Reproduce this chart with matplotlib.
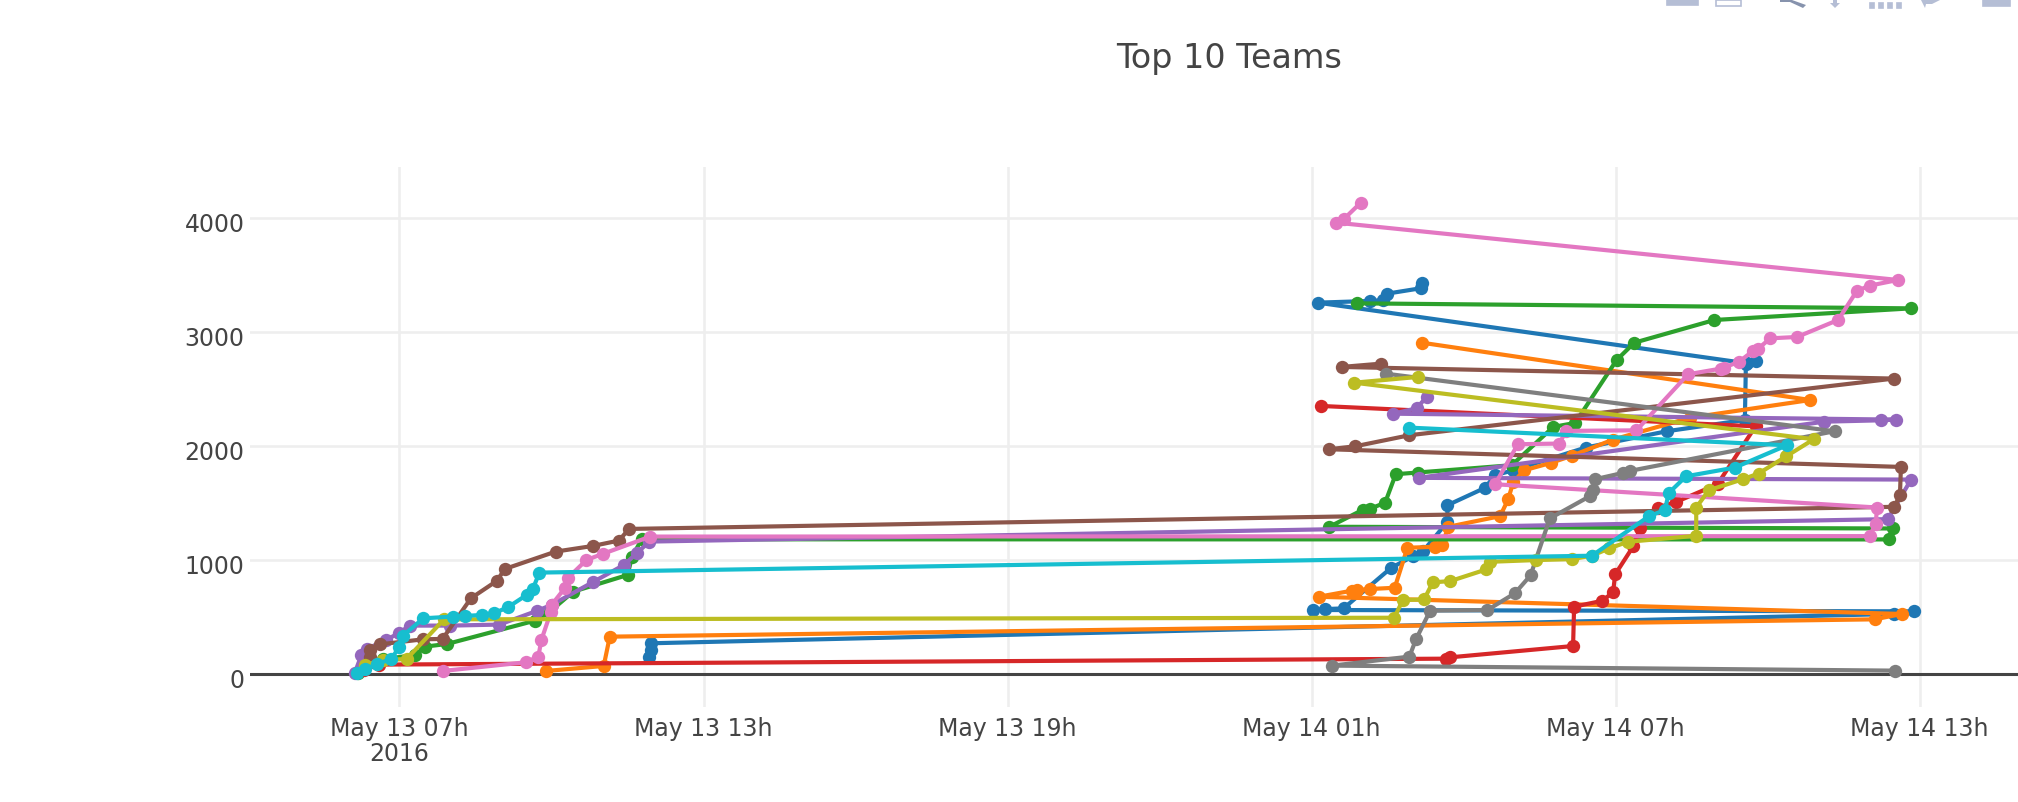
from datetime import datetime, timedelta

import matplotlib
matplotlib.use("Agg")
import matplotlib.pyplot as plt
from matplotlib.patches import Polygon, Rectangle
from matplotlib.transforms import ScaledTranslation

plt.rcParams["font.family"] = ["DejaVu Sans"]

START = datetime(2016, 5, 13)

# Each team: hours since 13 May 00:00 and cumulative score, in the order recorded.
team1_h = [11.93, 11.96, 11.96, 36.49, 36.89, 25.03, 25.26, 25.63, 26.57, 27.01, 27.20, 27.68, 27.68, 28.42,
           28.62, 28.98, 30.41, 32.01, 33.55, 33.57, 33.77, 33.59, 25.12, 26.16, 26.41, 26.49, 27.15, 27.17]
team1_v = [155, 213, 272, 529, 552, 564, 572, 578, 934, 1037, 1080, 1337, 1483, 1635,
           1746, 1790, 1989, 2132, 2231, 2719, 2749, 2728, 3260, 3275, 3281, 3339, 3386, 3436]

team2_h = [9.89, 11.03, 11.15, 36.11, 36.65, 25.14, 25.79, 25.89, 26.16, 26.64, 26.89, 27.43, 27.57, 27.70,
           28.72, 28.88, 28.98, 29.20, 29.72, 30.13, 30.95, 32.47, 34.84, 27.17]
team2_v = [29, 73, 330, 482, 529, 680, 733, 739, 748, 759, 1110, 1118, 1133, 1294,
           1387, 1536, 1688, 1790, 1854, 1916, 2059, 2251, 2406, 2909]

team3_h = [6.19, 6.68, 7.31, 7.51, 7.94, 9.68, 9.97, 10.43, 11.50, 11.59, 11.78, 36.39, 36.47, 25.35, 26.02,
           26.16, 26.45, 26.66, 27.09, 28.95, 29.77, 30.20, 31.02, 31.37, 32.95, 36.83, 25.89]
team3_v = [15, 132, 170, 243, 266, 471, 550, 725, 871, 1032, 1184, 1183, 1279, 1294, 1445,
           1454, 1504, 1755, 1770, 1834, 2170, 2205, 2757, 2909, 3108, 3210, 3254]

team4_h = [6.30, 6.60, 27.66, 27.74, 30.16, 30.18, 30.74, 30.95, 30.99, 31.35, 31.48, 31.83, 32.20, 33.01, 33.76, 25.18]
team4_v = [40, 85, 137, 149, 248, 593, 645, 721, 876, 1124, 1279, 1463, 1513, 1667, 2175, 2354]

team5_h = [6.12, 6.25, 6.35, 6.74, 7.00, 7.20, 8.00, 8.97, 9.71, 10.00, 10.81, 11.43, 11.68, 11.93,
           36.37, 36.83, 27.11, 35.12, 36.24, 36.54, 26.61, 27.07, 27.27]
team5_v = [15, 170, 222, 301, 365, 427, 427, 436, 556, 608, 807, 959, 1061, 1164,
           1361, 1708, 1723, 2216, 2228, 2234, 2286, 2333, 2433]

team6_h = [6.42, 6.42, 6.62, 7.47, 7.85, 8.41, 8.92, 9.08, 10.08, 10.82, 11.33, 11.53,
           36.50, 36.61, 36.63, 25.34, 25.86, 26.93, 36.49, 25.59, 26.37]
team6_v = [155, 213, 263, 307, 310, 667, 819, 924, 1076, 1126, 1173, 1275,
           1469, 1571, 1819, 1974, 2000, 2097, 2594, 2696, 2725]

team7_h = [7.85, 9.49, 9.74, 9.80, 9.99, 10.00, 10.26, 10.33, 10.69, 11.01, 11.95, 36.01, 36.13, 36.16, 28.62,
           29.07, 29.89, 30.02, 31.41, 32.43, 33.07, 33.13, 33.43, 33.71, 33.80, 34.05, 34.58, 35.39, 35.76,
           36.01, 36.57, 25.48, 25.63, 25.97]
team7_v = [29, 105, 155, 301, 550, 608, 754, 848, 1003, 1056, 1208, 1212, 1317, 1463, 1667,
           2018, 2024, 2135, 2140, 2632, 2681, 2690, 2740, 2836, 2851, 2947, 2959, 3108, 3363,
           3409, 3459, 3962, 3991, 4137]

team8_h = [36.52, 25.41, 26.93, 27.06, 27.34, 28.47, 29.01, 29.32, 29.70, 30.49, 30.55, 30.59, 31.15, 31.28, 35.32, 26.47]
team8_v = [32, 76, 155, 307, 558, 564, 710, 867, 1367, 1562, 1615, 1711, 1767, 1784, 2132, 2637]

team9_h = [6.32, 6.68, 7.14, 7.88, 26.63, 26.80, 27.22, 27.39, 27.74, 28.45, 28.53, 29.43, 30.13, 30.53, 30.87,
           31.24, 32.59, 32.59, 32.84, 33.51, 33.82, 34.37, 34.91, 25.84, 27.09]
team9_v = [82, 126, 134, 482, 496, 651, 657, 806, 818, 920, 987, 1002, 1010, 1040, 1104,
           1162, 1215, 1463, 1615, 1711, 1761, 1913, 2062, 2558, 2608]

team10_h = [6.16, 6.32, 6.55, 6.84, 6.99, 7.07, 7.47, 8.05, 8.29, 8.62, 8.86, 9.14, 9.51, 9.63, 9.76,
            30.53, 31.66, 31.97, 32.05, 32.39, 33.35, 34.38, 26.92]
team10_v = [15, 44, 88, 135, 237, 339, 491, 506, 512, 520, 535, 588, 696, 746, 892,
            1040, 1387, 1440, 1591, 1737, 1813, 2009, 2164]

teams = [(team1_h, team1_v), (team2_h, team2_v), (team3_h, team3_v), (team4_h, team4_v), (team5_h, team5_v),
         (team6_h, team6_v), (team7_h, team7_v), (team8_h, team8_v), (team9_h, team9_v), (team10_h, team10_v)]
team_colors = ["#1f77b4", "#ff7f0e", "#2ca02c", "#d62728", "#9467bd",
               "#8c564b", "#e377c2", "#7f7f7f", "#bcbd22", "#17becf"]

x_tick_hours = [7, 13, 19, 25, 31, 37]
x_tick_labels = ["May 13 07h\n2016", "May 13 13h", "May 13 19h", "May 14 01h", "May 14 07h", "May 14 13h"]
y_ticks = [0, 1000, 2000, 3000, 4000]


def stamp(hours):
    return START + timedelta(hours=hours)


W, H = 2018, 802
fig = plt.figure(figsize=(W / 100, H / 100), dpi=100, facecolor="white")
ax = fig.add_axes([250 / W, 1 - 707 / H, (W - 250) / W, (707 - 167) / H])

for (hours, values), color in zip(teams, team_colors):
    ax.plot([stamp(h) for h in hours], values, "-o", color=color, lw=3, ms=9.6, mew=0, zorder=3, clip_on=False)

ax.set_xlim(stamp(4.05), stamp(38.94))
ax.set_ylim(-287, 4450)
ax.set_xticks([stamp(h) for h in x_tick_hours])
ax.set_xticklabels(x_tick_labels, linespacing=1.08)
ax.set_yticks(y_ticks)
ax.tick_params(axis="both", length=0, labelsize=17, labelcolor="#444444")
ax.tick_params(axis="x", pad=7)
ax.tick_params(axis="y", pad=4)
ax.grid(True, color="#eeeeee", lw=1.9)
ax.set_axisbelow(True)
for side in ax.spines.values():
    side.set_visible(False)
ax.axhline(0, color="#444444", lw=2.2, zorder=2)

# Value labels sit a little below their gridlines.
nudge = ScaledTranslation(0, -4 / 100, fig.dpi_scale_trans)
for label in ax.get_yticklabels():
    label.set_transform(label.get_transform() + nudge)

fig.text(1229 / W, 1 - 68 / H, "Top 10 Teams", ha="center", va="baseline", fontsize=24, color="#444444")


# Plot toolbar along the top edge, cut off by the frame.
def box(x0, y0, x1, y1, color="#b5bed5", fill=True):
    fig.add_artist(Rectangle((x0 / W, 1 - y1 / H), (x1 - x0) / W, (y1 - y0) / H, transform=fig.transFigure,
                             facecolor=color if fill else "none", edgecolor=color, lw=1.2))


def shape(points, color="#b5bed5"):
    fig.add_artist(Polygon([(x / W, 1 - y / H) for x, y in points], transform=fig.transFigure,
                           facecolor=color, edgecolor="none"))


box(1667, 0, 1698, 5)
box(1716, 0, 1741, 6, fill=False)
shape([(1780, 0), (1792, 0), (1806, 5), (1803, 8), (1790, 2), (1780, 2)], "#8793ad")
shape([(1833, 0), (1837, 0), (1837, 3), (1840, 3), (1835, 8), (1830, 3), (1833, 3)])
for dot_x in (1870, 1879, 1888, 1897):
    box(dot_x, 3, dot_x + 4, 8)
shape([(1921, 0), (1940, 0), (1932, 4), (1926, 4), (1925, 8), (1923, 4)])
box(1983, 0, 2010, 6)

fig.savefig("out.png", dpi=100, facecolor="white")
